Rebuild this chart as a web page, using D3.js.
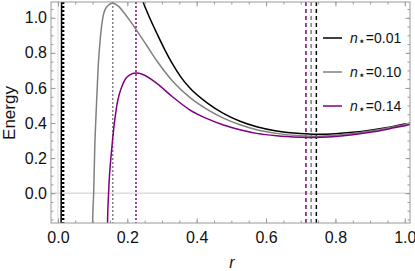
<!DOCTYPE html>
<html>
<head>
<meta charset="utf-8">
<script src="https://cdn.jsdelivr.net/npm/d3@7"></script>
<style>
  body { margin: 0; background: #fff; }
  svg text { font-family: "Liberation Sans", Arial, sans-serif; }
</style>
</head>
<body>
<div id="chart"></div>
<script>
// ---- data ----
var seriesNames = ["0.01", "0.10", "0.14"];
var seriesColors = ["#000000", "#808080", "#800080"];

// black curve, n*=0.01 (steep branch near r=0 and main branch)
var blackNear = [[0.0085, -0.3], [0.0092, -0.17], [0.0100, 0.5], [0.0106, 1.3]];
var blackMain = [
  [0.228, 1.22], [0.244, 1.10], [0.26, 1.02], [0.285, 0.912], [0.31, 0.81],
  [0.332, 0.731], [0.355, 0.66], [0.381, 0.598], [0.43, 0.515], [0.477, 0.455],
  [0.525, 0.41], [0.573, 0.379], [0.63, 0.355], [0.698, 0.340], [0.745, 0.336],
  [0.80, 0.339], [0.85, 0.347], [0.90, 0.359], [0.95, 0.375], [1.00, 0.394], [1.02, 0.40]
];
// gray curve, n*=0.10
var grayCurve = [
  [0.099, -0.3], [0.100, -0.17], [0.103, 0.0], [0.106, 0.246], [0.111, 0.50],
  [0.116, 0.72], [0.122, 0.88], [0.130, 1.006], [0.140, 1.06], [0.158, 1.083],
  [0.175, 1.065], [0.190, 1.03], [0.207, 0.985], [0.227, 0.928], [0.255, 0.845],
  [0.285, 0.755], [0.33, 0.64], [0.381, 0.545], [0.43, 0.478], [0.477, 0.428],
  [0.525, 0.39], [0.573, 0.362], [0.63, 0.341], [0.698, 0.327], [0.73, 0.325],
  [0.78, 0.328], [0.85, 0.340], [0.90, 0.354], [0.95, 0.371], [1.00, 0.390], [1.02, 0.398]
];
// purple curve, n*=0.14
var purpleCurve = [
  [0.142, -0.3], [0.143, -0.17], [0.146, 0.0], [0.155, 0.25], [0.169, 0.49],
  [0.188, 0.626], [0.205, 0.672], [0.225, 0.685], [0.245, 0.677], [0.285, 0.626],
  [0.33, 0.55], [0.381, 0.474], [0.43, 0.425], [0.477, 0.389], [0.525, 0.362],
  [0.573, 0.341], [0.63, 0.327], [0.698, 0.319], [0.715, 0.318], [0.76, 0.319],
  [0.80, 0.323], [0.85, 0.333], [0.90, 0.347], [0.95, 0.365], [1.00, 0.385], [1.02, 0.393]
];
// vertical markers: maxima (dotted) and minima (dashed)
var maxPositions = [0.015, 0.158, 0.225];
var minPositions = [0.745, 0.730, 0.715];

var xTicks = [0.0, 0.2, 0.4, 0.6, 0.8, 1.0];
var yTicks = [0.0, 0.2, 0.4, 0.6, 0.8, 1.0];

// ---- layout ----
var width = 415, height = 271;
var plotL = 51, plotR = 410, plotT = 2, plotB = 223;

var svg = d3.select("#chart").append("svg")
  .attr("width", width)
  .attr("height", height);

var x = d3.scaleLinear().domain([-0.02, 1.015]).range([plotL, plotR]);
var y = d3.scaleLinear().domain([-0.17, 1.09]).range([plotB, plotT]);

svg.append("clipPath").attr("id", "plotClip")
  .append("rect")
  .attr("x", plotL).attr("y", plotT)
  .attr("width", plotR - plotL).attr("height", plotB - plotT);

var plot = svg.append("g").attr("clip-path", "url(#plotClip)");

// light axes at zero
plot.append("line")
  .attr("x1", plotL).attr("x2", plotR)
  .attr("y1", y(0)).attr("y2", y(0))
  .attr("stroke", "#dcdcdc").attr("stroke-width", 1.5);
plot.append("line")
  .attr("x1", x(0)).attr("x2", x(0))
  .attr("y1", plotT).attr("y2", plotB)
  .attr("stroke", "#dcdcdc").attr("stroke-width", 1);

// vertical markers
plot.selectAll(".maxLine")
  .data(maxPositions)
  .enter().append("line")
  .attr("class", "maxLine")
  .attr("x1", function(d) { return x(d); })
  .attr("x2", function(d) { return x(d); })
  .attr("y1", plotT).attr("y2", plotB)
  .attr("stroke", function(d, i) { return seriesColors[i]; })
  .attr("stroke-width", function(d, i) { return i == 0 ? 2.5 : 1.5; })
  .attr("stroke-dasharray", "2,2");

plot.selectAll(".minLine")
  .data(minPositions)
  .enter().append("line")
  .attr("class", "minLine")
  .attr("x1", function(d) { return x(d); })
  .attr("x2", function(d) { return x(d); })
  .attr("y1", plotT).attr("y2", plotB)
  .attr("stroke", function(d, i) { return seriesColors[i]; })
  .attr("stroke-width", 1.5)
  .attr("stroke-dasharray", "4,3");

// curves
var line = d3.line()
  .x(function(d) { return x(d[0]); })
  .y(function(d) { return y(d[1]); })
  .curve(d3.curveMonotoneX);

var curves = [
  { pts: blackNear, color: seriesColors[0] },
  { pts: blackMain, color: seriesColors[0] },
  { pts: grayCurve, color: seriesColors[1] },
  { pts: purpleCurve, color: seriesColors[2] }
];

plot.selectAll(".curve")
  .data(curves)
  .enter().append("path")
  .attr("class", "curve")
  .attr("d", function(d) { return line(d.pts); })
  .attr("fill", "none")
  .attr("stroke", function(d) { return d.color; })
  .attr("stroke-width", 1.5);

// frame with inward ticks
var frameColor = "#9a9a9a";
var xMinor = d3.range(0, 1.0001, 0.05);
var yMinor = d3.range(-0.15, 1.0501, 0.05);

function styleAxis(g) {
  g.select(".domain").remove();
  g.selectAll("line").attr("stroke", frameColor);
  g.selectAll("text")
    .attr("fill", "#111")
    .style("font-size", "16px");
}

svg.append("g")
  .attr("transform", "translate(0," + plotB + ")")
  .call(d3.axisBottom(x).tickValues(xMinor).tickSize(-2.5).tickFormat(""))
  .call(styleAxis);
svg.append("g")
  .attr("transform", "translate(0," + plotB + ")")
  .call(d3.axisBottom(x).tickValues(xTicks).tickSize(-4.5).tickPadding(8.5).tickFormat(d3.format(".1f")))
  .call(styleAxis);
svg.append("g")
  .attr("transform", "translate(0," + plotT + ")")
  .call(d3.axisTop(x).tickValues(xMinor).tickSize(-2.5).tickFormat(""))
  .call(styleAxis);
svg.append("g")
  .attr("transform", "translate(0," + plotT + ")")
  .call(d3.axisTop(x).tickValues(xTicks).tickSize(-4.5).tickFormat(""))
  .call(styleAxis);

svg.append("g")
  .attr("transform", "translate(" + plotL + ",0)")
  .call(d3.axisLeft(y).tickValues(yMinor).tickSize(-2.5).tickFormat(""))
  .call(styleAxis);
svg.append("g")
  .attr("transform", "translate(" + plotL + ",0)")
  .call(d3.axisLeft(y).tickValues(yTicks).tickSize(-4.5).tickPadding(4).tickFormat(d3.format(".1f")))
  .call(styleAxis);
svg.append("g")
  .attr("transform", "translate(" + plotR + ",0)")
  .call(d3.axisRight(y).tickValues(yMinor).tickSize(-2.5).tickFormat(""))
  .call(styleAxis);
svg.append("g")
  .attr("transform", "translate(" + plotR + ",0)")
  .call(d3.axisRight(y).tickValues(yTicks).tickSize(-4.5).tickFormat(""))
  .call(styleAxis);

svg.append("rect")
  .attr("x", plotL).attr("y", plotT)
  .attr("width", plotR - plotL).attr("height", plotB - plotT)
  .attr("fill", "none")
  .attr("stroke", frameColor)
  .attr("stroke-width", 1);

// axis titles
svg.append("text")
  .attr("transform", "translate(15,113) rotate(-90)")
  .attr("text-anchor", "middle")
  .style("font-size", "17px")
  .attr("fill", "#111")
  .text("Energy");

svg.append("text")
  .attr("x", 232).attr("y", 268)
  .attr("text-anchor", "middle")
  .style("font-size", "16px")
  .style("font-style", "italic")
  .attr("fill", "#111")
  .text("r");

// legend
var legend = svg.selectAll(".legendItem")
  .data(seriesNames)
  .enter().append("g")
  .attr("class", "legendItem")
  .attr("transform", function(d, i) { return "translate(323," + (38 + i * 34) + ")"; });

legend.append("line")
  .attr("x1", 0).attr("x2", 19)
  .attr("y1", 0).attr("y2", 0)
  .attr("stroke", function(d, i) { return seriesColors[i]; })
  .attr("stroke-width", 1.5);

var legendText = legend.append("text")
  .attr("x", 27).attr("y", 5)
  .attr("fill", "#111")
  .style("font-size", "14px");
legendText.append("tspan").style("font-style", "italic").text("n");
legendText.append("tspan").attr("dy", 2).style("font-size", "12px").text("\u22C6");
legendText.append("tspan").attr("dy", -2).text(function(d) { return "=" + d; });
</script>
</body>
</html>
